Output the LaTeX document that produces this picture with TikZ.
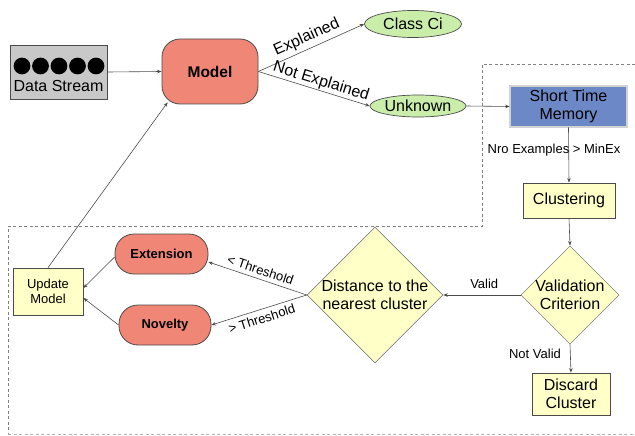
\documentclass[tikz,border=0pt]{standalone}
\usepackage{fontspec}
\setmainfont{Liberation Sans}
\usetikzlibrary{shapes.geometric,arrows.meta,calc}
\definecolor{salmon}{RGB}{240,135,118}
\definecolor{lgreen}{RGB}{202,238,170}
\definecolor{mblue}{RGB}{108,136,198}
\definecolor{lyellow}{RGB}{255,255,200}
\definecolor{lgray}{RGB}{200,200,200}
\definecolor{edge}{RGB}{75,75,75}
\tikzset{
  big/.style={font=\fontsize{16}{17.5}\selectfont},
  mid/.style={font=\fontsize{13}{14.5}\selectfont},
  conn/.style={draw=edge, line width=0.6pt, -{Stealth[length=4.5pt,width=3.5pt]}},
  salbox/.style={draw=edge, line width=0.8pt, fill=salmon, inner sep=0pt},
  greenell/.style={ellipse, draw=edge, line width=0.7pt, fill=lgreen, inner sep=0pt, big},
  ybox/.style={rectangle, draw=edge, line width=0.8pt, fill=lyellow, inner sep=0pt, align=center},
  ydiam/.style={diamond, draw=edge!70, line width=0.6pt, fill=lyellow, inner sep=0pt, align=center, big},
  region/.style={draw=gray, dashed, line width=0.8pt, dash pattern=on 3pt off 2.5pt},
}
\begin{document}
\begin{tikzpicture}[x=1pt,y=-1pt]
\useasboundingbox (0,0) rectangle (635,436);
% dashed region
\coordinate (r1) at (635,64);
\coordinate (r2) at (482,64);
\coordinate (r3) at (482,226);
\coordinate (r4) at (8,226);
\coordinate (r5) at (8,434);
\coordinate (r6) at (635,434);
\draw[region] (r1) -- (r2) -- (r3) -- (r4) -- (r5);
\draw[region, draw=gray!60] (r5) -- (r6);
% data stream
\node[draw=edge, line width=0.8pt, fill=lgray, minimum width=97pt, minimum height=54pt, inner sep=0pt] (ds) at (58.5,72) {};
\foreach \cx in {22,40.5,59,77.5,96} \fill[black] (\cx,66) circle (8.4pt);
\node[big, inner sep=0pt] (dstext) at (58.5,86) {Data Stream};
% model
\node[salbox, rounded corners=18pt, minimum width=96pt, minimum height=65pt, font=\bfseries\fontsize{15.5}{17}\selectfont] (model) at (210,71.5) {Model};
% ellipses
\node[greenell, minimum width=97pt, minimum height=27pt] (classci) at (413,24) {Class Ci};
\node[greenell, minimum width=96pt, minimum height=22pt] (unknown) at (418,106) {Unknown};
% short time memory
\node[rectangle, draw=black!75, double=gray!35, double distance=1.6pt, line width=0.6pt, fill=mblue, minimum width=117pt, minimum height=41pt, inner sep=0pt, align=center, big] (stm) at (568.5,106.5) {Short Time\\Memory};
% clustering
\node[ybox, big, minimum width=92pt, minimum height=35pt] (clust) at (569,200.5) {Clustering};
% diamonds
\node[ydiam, minimum width=96pt, minimum height=97pt] (valid) at (570,295) {Validation\\Criterion};
\node[ydiam, minimum width=136pt, minimum height=135pt] (dist) at (375,295) {Distance to the\\nearest cluster};
% discard
\node[ybox, big, minimum width=78pt, minimum height=42pt] (discard) at (571,394) {Discard\\Cluster};
% extension / novelty
\node[salbox, rounded corners=19pt, minimum width=93pt, minimum height=40pt, font=\bfseries\fontsize{13}{14.5}\selectfont] (ext) at (161.5,254) {Extension};
\node[salbox, rounded corners=19pt, minimum width=92pt, minimum height=40pt, font=\bfseries\fontsize{13}{14.5}\selectfont] (nov) at (165,325) {Novelty};
% update model
\node[ybox, mid, minimum width=70pt, minimum height=47pt] (upd) at (48,291.5) {Update\\Model};
% connectors
\draw[conn] (ds.east) -- (model.west);
\draw[conn] (model.east) -- node[sloped, above, big, inner sep=3.5pt, pos=0.5] {Explained} (classci.west);
\draw[conn] (model.east) -- node[sloped, above, big, inner sep=1pt, pos=0.54] {Not Explained} (unknown.west);
\draw[conn] (unknown.east) -- (stm.west);
\draw[conn] (stm.south) -- (clust.north);
\node[mid, inner sep=0pt] (nrolbl) at (554,150) {Nro Examples > MinEx};
\draw[conn] (clust.south) -- (valid.north);
\draw[conn] (valid.west) -- node[above, mid, pos=0.47, inner sep=6pt] {Valid} (dist.east);
\draw[conn] (valid.south) -- (discard.north);
\node[mid, inner sep=0pt] (nvlbl) at (535,354) {Not Valid};
\draw[conn] (dist.west) -- node[sloped, above, mid, inner sep=4pt] {< Threshold} ([yshift=-8pt]ext.east);
\draw[conn] (dist.west) -- node[sloped, below, mid, inner sep=4pt] {> Threshold} (nov.east);
\draw[conn] ([yshift=-3pt]ext.west) -- ([yshift=3.5pt]upd.east);
\draw[conn] (nov.west) -- ([yshift=-6.5pt]upd.east);
\draw[conn] (upd.north) -- ([xshift=6pt,yshift=2pt]model.south west);
\end{tikzpicture}
\end{document}
